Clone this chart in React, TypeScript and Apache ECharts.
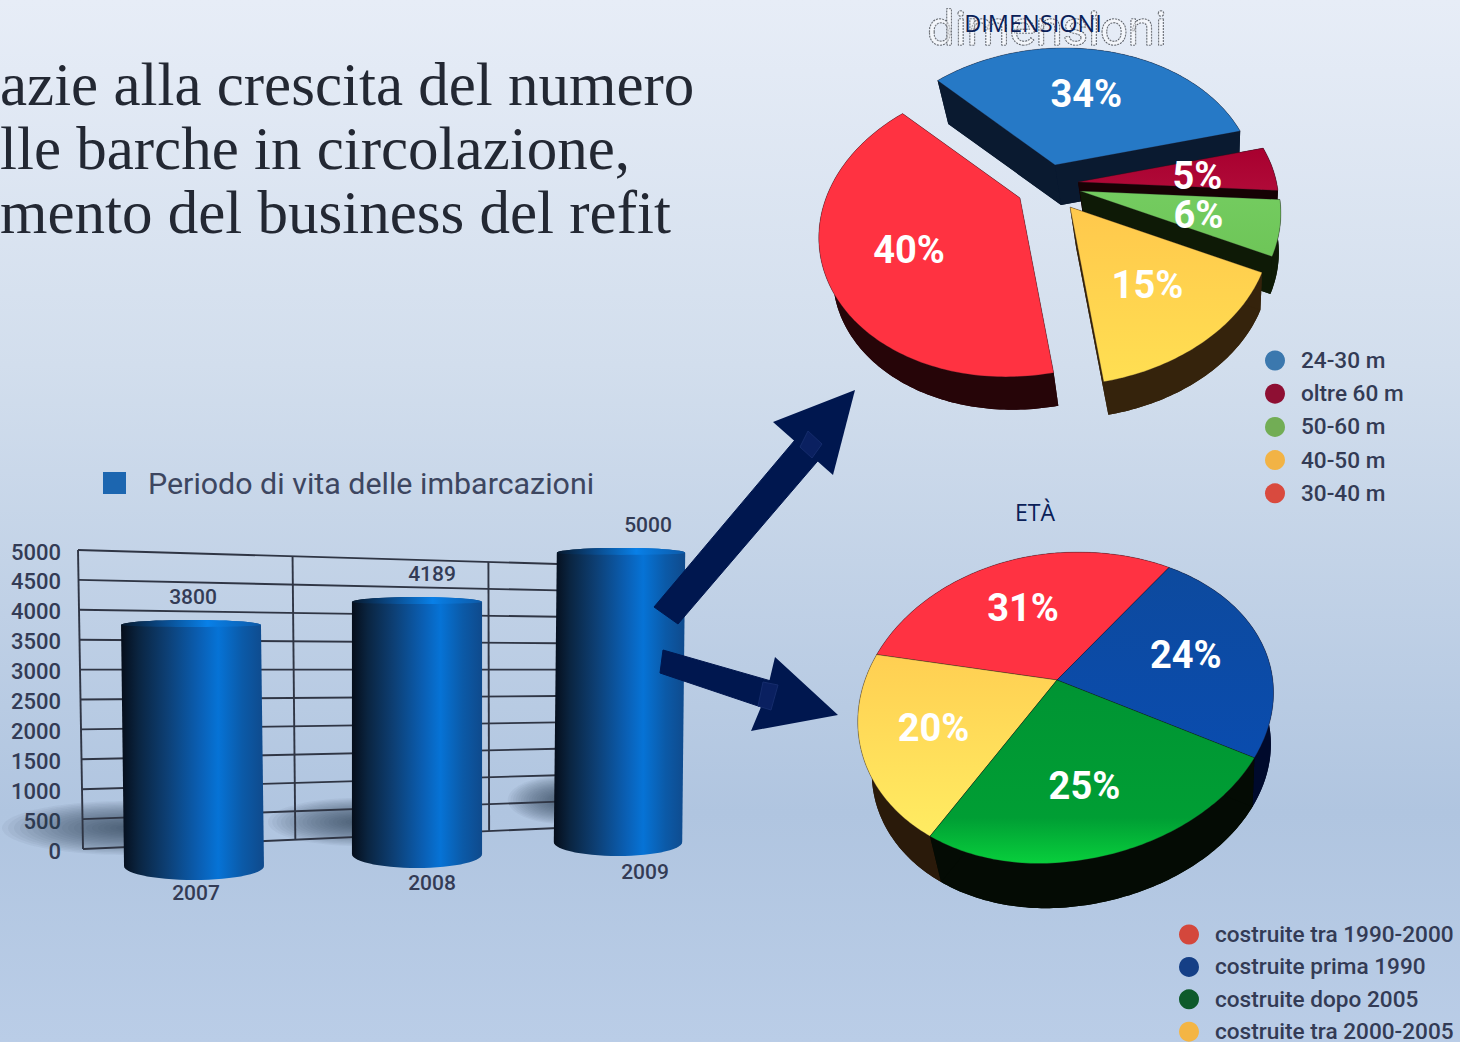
import React, { useEffect, useRef } from "react";
import * as echarts from "echarts";

const years = ["2007", "2008", "2009"];
const lifeValues = [3800, 4189, 5000];
const yTicks = [0, 500, 1000, 1500, 2000, 2500, 3000, 3500, 4000, 4500, 5000];

const sizeNames = ["24-30 m", "oltre 60 m", "50-60 m", "40-50 m", "30-40 m"];
const sizeValues = [34, 5, 6, 15, 40];
const ageNames = ["costruite prima 1990", "costruite dopo 2005", "costruite tra 2000-2005", "costruite tra 1990-2000"];
const ageValues = [24, 25, 20, 31];
const ageLegendOrder = ["costruite tra 1990-2000", "costruite prima 1990", "costruite dopo 2005", "costruite tra 2000-2005"];

const headline = ["azie alla crescita del numero", "lle barche in circolazione,", "mento del business del refit"];

const G = echarts.graphic;
const TXT = "#333b55";
const NAVY = "#00174f";
const rad = (d: number) => (d * Math.PI) / 180;
const grad = (stops: [number, string][], x2 = 0, y2 = 1) =>
  new G.LinearGradient(0, 0, x2, y2, stops.map(([offset, color]) => ({ offset, color })));

const poly = (points: number[][], fill: any, stroke?: string) => ({
  type: "polygon",
  shape: { points },
  style: { fill, stroke: stroke || null, lineWidth: stroke ? 1 : 0 },
});

/* perspective look of the three cylinders on the tilted floor */
const barLook = [
  { dx: -1, lean: 3, half: 0.327, baseDy: 15, scale: 1.074, labelDx: 2, yearGap: 13, shadowW: 125, shadowDy: 38, shadowH: 27 },
  { dx: 11, lean: 0, half: 0.304, baseDy: 3, scale: 1.018, labelDx: 15, yearGap: 15, shadowW: 90, shadowDy: 32, shadowH: 24 },
  { dx: 1, lean: -3, half: 0.3, baseDy: -9, scale: 0.977, labelDx: 27, yearGap: 16, shadowW: 55, shadowDy: 42, shadowH: 24 },
];
const barShade = grad(
  [
    [0, "#050d1a"],
    [0.12, "#0a2440"],
    [0.32, "#0d3f74"],
    [0.55, "#0a5fb4"],
    [0.68, "#0673d6"],
    [0.85, "#0b5aa8"],
    [1, "#0f4a8c"],
  ],
  1,
  0
);
const capShade = grad(
  [
    [0, "#06192e"],
    [0.3, "#0a4a8a"],
    [0.62, "#0880e8"],
    [1, "#0d5aa8"],
  ],
  1,
  0
);

function arcPts(cx: number, cy: number, rx: number, ry: number, from: number, to: number) {
  const out: number[][] = [];
  for (let i = 0; i <= 30; i++) {
    const a = Math.PI * (from + ((to - from) * i) / 30);
    out.push([cx + rx * Math.cos(a), cy + ry * Math.sin(a)]);
  }
  return out;
}

function renderBar(_: any, api: any) {
  const i = api.value(0);
  const v = api.value(1);
  const look = barLook[i];
  const [x0, y0] = api.coord([i, 0]);
  const [, yv] = api.coord([i, v]);
  const band = api.size([1, 0])[0];
  const hw = band * look.half;
  const height = (y0 - yv) * look.scale;
  const base = y0 + look.baseDy;
  const top = base - height;
  const cxTop = x0 + look.dx;
  const cxBot = cxTop + look.lean;
  const lower = arcPts(cxBot, base, hw, 14, 0, 1);
  const upper = arcPts(cxTop, top + 3, hw, 5, 1, 2);
  const cap = [...arcPts(cxTop, top + 3, hw, 5, 1, 2), ...arcPts(cxTop, top + 3, hw, 2, 0, 1)];
  const font = "500 21px Roboto";
  return {
    type: "group",
    children: [
      poly([...lower, ...upper], barShade),
      poly(cap, capShade),
      {
        type: "text",
        style: { text: String(v), x: cxTop + look.labelDx, y: top - 25, font, fill: TXT, align: "center", verticalAlign: "middle" },
      },
      {
        type: "text",
        style: { text: years[i], x: cxBot + look.labelDx, y: base + 14 + look.yearGap, font, fill: TXT, align: "center", verticalAlign: "middle" },
      },
    ],
  };
}

/* soft floor shadow thrown to the left of each cylinder: stacked translucent ellipses */
function renderShadow(_: any, api: any) {
  const i = api.value(0);
  const look = barLook[i];
  const [x0, y0] = api.coord([i, 0]);
  const band = api.size([1, 0])[0];
  const right = x0 + look.dx + 6 - band * look.half;
  const cy = y0 + look.baseDy - look.shadowDy;
  const children: any[] = [];
  for (let k = 0; k < 20; k++) {
    const f = 1 - k * 0.048;
    children.push({
      type: "ellipse",
      shape: { cx: right, cy, rx: look.shadowW * f, ry: look.shadowH * f },
      style: { fill: "rgba(45,55,75,0.05)" },
    });
  }
  return { type: "group", children };
}

/* back wall: grid lines follow the value axis, skewed to the wall's perspective */
const wallLeft = 78;
const wallRight = 558;
const wallDividers = [0, 0.447, 0.855];
function wallPoint(api: any, v: number, f: number) {
  const y = api.coord([0, v])[1];
  const y0 = api.coord([0, 0])[1];
  const yL = y - 2;
  const yR = 828 + (y - y0) * (264 / 299);
  const shift = (1 - v / 5000) * 5 * (1 - f);
  return [wallLeft + (wallRight - wallLeft) * f + shift, yL + (yR - yL) * f];
}
function renderWall(_: any, api: any) {
  const v = api.value(0);
  const line = (a: number[], b: number[]) => ({
    type: "line",
    shape: { x1: a[0], y1: a[1], x2: b[0], y2: b[1] },
    style: { stroke: "#2f3544", lineWidth: 1.9 },
  });
  const children: any[] = [line(wallPoint(api, v, 0), wallPoint(api, v, 1))];
  if (v === 0) {
    wallDividers.forEach((f) => children.push(line(wallPoint(api, 0, f), wallPoint(api, 5000, f))));
  }
  return { type: "group", children };
}

type Slice = { apex: number[]; fill: any; side: string; nudge: number[] };
type PieCfg = {
  rxR: number;
  rxL: number;
  ry: number;
  p: number;
  k: number;
  m: number;
  start: number;
  shift: number[];
  shrink: number;
  r: number;
  slices: Slice[];
};

function pieSeries(names: string[], values: number[], order: number[], cfg: PieCfg, baseZ: number) {
  const total = values.reduce((a, b) => a + b, 0);
  let acc = cfg.start;
  const ranges = values.map((v) => {
    const s = acc;
    acc += (v / total) * 360;
    return [s, acc];
  });
  return order.map((i, zi) => ({
    type: "custom",
    name: names[i],
    coordinateSystem: "none",
    silent: true,
    z: baseZ + zi,
    data: [values[i]],
    renderItem: (_: any, api: any) => {
      const val = api.value(0);
      const sl = cfg.slices[i];
      const [a0, a1] = ranges[i];
      const pt = (deg: number, r: number) => {
        const c = Math.cos(rad(deg));
        const s = Math.sin(rad(deg));
        const w = 1 - cfg.p * r * s;
        const x = ((c < 0 ? cfg.rxL : cfg.rxR) * r * c) / w;
        const y = (cfg.ry * r * s) / w;
        return [sl.apex[0] + x - cfg.m * y, sl.apex[1] + y - cfg.k * x];
      };
      const arc: number[][] = [];
      const n = Math.max(8, Math.round(a1 - a0));
      for (let j = 0; j <= n; j++) arc.push(pt(a0 + ((a1 - a0) * j) / n, 1));
      const apex = sl.apex;
      const down = (q: number[]) => [
        apex[0] + (q[0] - apex[0]) * cfg.shrink + cfg.shift[0],
        apex[1] + (q[1] - apex[1]) * cfg.shrink + cfg.shift[1],
      ];
      const face = [apex, ...arc];
      const mid = pt((a0 + a1) / 2, cfg.r);
      return {
        type: "group",
        children: [
          poly(face.map(down), sl.side),
          poly([...arc, ...arc.map(down).reverse()], sl.side),
          poly([apex, arc[0], down(arc[0]), down(apex)], sl.side),
          poly([apex, arc[n], down(arc[n]), down(apex)], sl.side),
          poly(face, sl.fill, "rgba(30,20,30,0.3)"),
          {
            type: "text",
            style: {
              text: `${val}%`,
              x: mid[0] + sl.nudge[0],
              y: mid[1] + sl.nudge[1],
              font: "700 38px Roboto",
              fill: "#ffffff",
              align: "center",
              verticalAlign: "middle",
            },
          },
        ],
      };
    },
  }));
}

const sizePie: PieCfg = {
  rxR: 198.5,
  rxL: 194,
  ry: 141.5,
  p: 0.209,
  k: 0,
  m: 0.08,
  start: 223,
  shift: [6, 40],
  shrink: 0.96,
  r: 0.65,
  slices: [
    { apex: [1055, 165], fill: "#2679c6", side: "#0a1a30", nudge: [-3, 8] },
    { apex: [1078, 182], fill: grad([[0, "#a8002f"], [1, "#b00a38"]]), side: "#160204", nudge: [-8, 3] },
    { apex: [1080, 191], fill: grad([[0, "#74cc60"], [1, "#6ec558"]]), side: "#0e1a06", nudge: [-9, 1] },
    { apex: [1070, 207], fill: grad([[0, "#ffc84c"], [1, "#ffdf52"]]), side: "#35230c", nudge: [-5, -3] },
    { apex: [1020, 198], fill: "#ff3241", side: "#260508", nudge: [11, 4] },
  ],
};
const agePie: PieCfg = {
  rxR: 213,
  rxL: 196,
  ry: 150,
  p: 0.18,
  k: 0.07,
  m: 0,
  start: 307,
  shift: [6, 52],
  shrink: 0.96,
  r: 0.65,
  slices: [
    { apex: [1057, 680], fill: grad([[0, "#0d4a9e"], [1, "#0a4cae"]]), side: "#000a2c", nudge: [-5, 1] },
    { apex: [1057, 680], fill: grad([[0, "#009433"], [0.75, "#009e34"], [1, "#08cf3c"]]), side: "#040b04", nudge: [-4, 0] },
    { apex: [1057, 680], fill: grad([[0, "#ffcf52"], [1, "#ffec62"]]), side: "#2a1a0a", nudge: [1, 4] },
    { apex: [1057, 680], fill: "#ff3242", side: "#220407", nudge: [3, 9] },
  ],
};

const sizeLegendColors = ["#3b78ae", "#8e0f33", "#72ad55", "#f2b345", "#d94a3e"];
const ageLegendColors = ["#d4473c", "#153f86", "#0d5a2b", "#f4b544"];

const legendBase = {
  orient: "vertical",
  icon: "circle",
  itemWidth: 20,
  itemHeight: 20,
  height: 300,
  padding: 0,
  selectedMode: false,
  textStyle: { color: TXT, fontSize: 22.6, fontFamily: "Roboto", fontWeight: 500, padding: [0, 0, 0, 11], lineHeight: 20 },
};

const shaft = (pts: number[][]) => ({ type: "polygon", z: 60, shape: { points: pts }, style: { fill: NAVY, stroke: NAVY, lineWidth: 1 } });

export default function App() {
  const ref = useRef<HTMLDivElement>(null);
  useEffect(() => {
    document.body.style.margin = "0";
    const chart = echarts.init(ref.current!, null, { renderer: "svg" });
    chart.setOption({
      animation: false,
      title: [
        { text: "DIMENSIONI", left: 1028, top: 6, textAlign: "center", textStyle: { color: "#0a2058", fontSize: 23.5, fontWeight: 400, fontFamily: "Open Sans" } },
        { text: "ETÀ", left: 1030, top: 495, textAlign: "center", textStyle: { color: "#0a2058", fontSize: 23, fontWeight: 400, fontFamily: "Open Sans" } },
      ],
      legend: [
        {
          data: [{ name: "Periodo di vita delle imbarcazioni", icon: "rect", itemStyle: { color: "#1c66b0" } }],
          left: 103,
          top: 468,
          padding: 0,
          itemWidth: 23,
          itemHeight: 22,
          selectedMode: false,
          textStyle: { color: "#3d4660", fontSize: 30.4, fontFamily: "Roboto", padding: [0, 0, 0, 17] },
        },
        {
          ...legendBase,
          left: 1265,
          top: 349,
          itemGap: 10.2,
          data: sizeNames.map((name, i) => ({ name, itemStyle: { color: sizeLegendColors[i] } })),
        },
        {
          ...legendBase,
          left: 1179,
          top: 923,
          itemGap: 9.4,
          data: ageLegendOrder.map((name, i) => ({ name, itemStyle: { color: ageLegendColors[i] } })),
        },
      ],
      grid: { left: 85, width: 642, top: 552, height: 299 },
      xAxis: { type: "category", data: years, axisLine: { show: false }, axisTick: { show: false }, axisLabel: { show: false }, splitLine: { show: false } },
      yAxis: {
        type: "value",
        min: 0,
        max: 5000,
        interval: 500,
        axisLine: { show: false },
        axisTick: { show: false },
        splitLine: { show: false },
        axisLabel: { color: TXT, fontSize: 22, fontWeight: 500, fontFamily: "Roboto", margin: 24, formatter: (v: number) => String(v) },
      },
      series: [
        { type: "custom", silent: true, z: 1, data: years.map((_, i) => [i, lifeValues[i]]), encode: { x: 0, y: 1 }, renderItem: renderShadow, clip: false },
        { type: "custom", silent: true, z: 2, data: yTicks.map((v) => [v]), encode: { y: 0 }, renderItem: renderWall, clip: false },
        {
          type: "custom",
          name: "Periodo di vita delle imbarcazioni",
          silent: true,
          z: 3,
          data: years.map((_, i) => [i, lifeValues[i]]),
          encode: { x: 0, y: 1 },
          renderItem: renderBar,
          clip: false,
          itemStyle: { color: "#1c66b0" },
        },
        ...pieSeries(sizeNames, sizeValues, [0, 1, 2, 3, 4], sizePie, 10),
        ...pieSeries(ageNames, ageValues, [3, 0, 2, 1], agePie, 20),
      ],
      graphic: [
        ...headline.map((text, i) => ({
          type: "text",
          z: 40,
          x: 0,
          y: 54 + i * 64,
          style: { text, font: "61px 'Liberation Serif'", fill: "#232833", align: "left", verticalAlign: "alphabetic" },
        })),
        {
          type: "text",
          z: 5,
          x: 1047,
          y: 28,
          style: { text: "dimensioni", font: "400 49px Roboto", fill: "rgba(255,255,255,0.55)", stroke: "#3f444d", lineWidth: 1.2, lineDash: [2, 1], align: "center", verticalAlign: "middle" },
        },
        shaft([[654, 607], [678, 624], [822, 456], [800, 434]]),
        { type: "polygon", z: 61, shape: { points: [[773, 422], [855, 390], [833, 475]] }, style: { fill: NAVY } },
        { type: "polygon", z: 62, shape: { points: [[800, 447], [808, 431], [822, 444], [812, 458]] }, style: { fill: "#0a2060", stroke: "#152c6c", lineWidth: 1 } },
        shaft([[663, 650], [660, 673], [770, 710], [778, 683]]),
        { type: "polygon", z: 61, shape: { points: [[775, 657], [838, 715], [751, 731], [766, 695]] }, style: { fill: NAVY } },
        { type: "polygon", z: 62, shape: { points: [[763, 682], [778, 685], [771, 710], [758, 706]] }, style: { fill: "#0a2060", stroke: "#152c6c", lineWidth: 1 } },
      ],
    });
    return () => chart.dispose();
  }, []);
  return (
    <div
      ref={ref}
      style={{
        width: 1460,
        height: 1042,
        overflow: "hidden",
        background: "linear-gradient(180deg,#e7edf7 0%,#d2deed 35%,#b0c5e0 78%,#bacde7 100%)",
      }}
    />
  );
}
